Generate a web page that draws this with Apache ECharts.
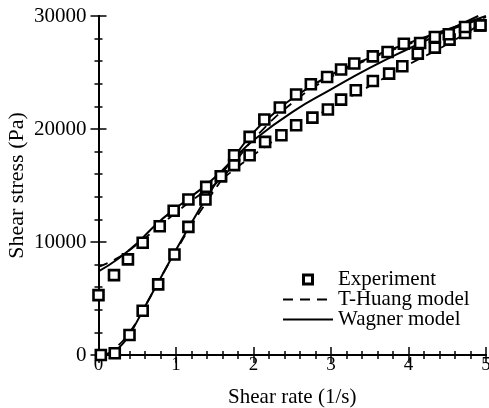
<!DOCTYPE html>
<html>
<head>
<meta charset="utf-8">
<title>Shear stress vs shear rate</title>
<script src="https://cdn.jsdelivr.net/npm/echarts@6/dist/echarts.min.js"></script>
<style>
  html, body { margin: 0; padding: 0; background: #fff; }
  #chart { width: 489px; height: 408px; }
</style>
</head>
<body>
<div id="chart"></div>
<script type="text/javascript">
    // experiment, branch starting near 5000 Pa
    var expAX = [0, 0.2, 0.38, 0.57, 0.79, 0.97, 1.16, 1.39, 1.58, 1.75, 1.95, 2.15, 2.36, 2.55, 2.76, 2.96, 3.13, 3.32, 3.54, 3.75, 3.92, 4.12, 4.34, 4.53, 4.73, 4.92];
    var expAY = [5300, 7070, 8460, 9930, 11400, 12760, 13760, 14880, 15820, 16800, 17680, 18860, 19450, 20330, 21010, 21720, 22600, 23430, 24250, 24900, 25550, 26670, 27200, 27910, 28490, 29170];
    // experiment, branch starting at 0
    var expBX = [0.03, 0.21, 0.40, 0.57, 0.77, 0.98, 1.16, 1.38, 1.58, 1.75, 1.95, 2.14, 2.34, 2.55, 2.74, 2.95, 3.13, 3.30, 3.54, 3.73, 3.94, 4.15, 4.34, 4.52, 4.73, 4.93];
    var expBY = [0, 150, 1770, 3920, 6250, 8900, 11340, 13760, 15820, 17680, 19300, 20840, 21900, 23050, 23960, 24600, 25260, 25790, 26430, 26810, 27550, 27610, 28140, 28380, 29020, 29170];

    // T-Huang model (dashed)
    var huangDownX = [0, 0.25, 0.5, 0.75, 1, 1.25, 1.5, 1.75, 2, 2.5, 3, 3.5, 4, 4.5, 5];
    var huangDownY = [7800, 8600, 9800, 11200, 12600, 13900, 15100, 16400, 17700, 20000, 21900, 23800, 25700, 27500, 29600];
    var huangUpX = [0.08, 0.2, 0.4, 0.6, 0.8, 1.0, 1.2, 1.4, 1.6, 1.8, 2.0, 2.5, 3, 3.5, 4, 4.5, 5];
    var huangUpY = [0, 500, 2000, 4300, 6800, 9200, 11500, 13600, 15600, 17400, 19100, 22300, 24600, 26200, 27500, 28700, 29900];

    // Wagner model (solid)
    var wagDownX = [0, 0.25, 0.5, 0.75, 1, 1.25, 1.5, 1.75, 2, 2.5, 3, 3.5, 4, 4.5, 4.9];
    var wagDownY = [7400, 8500, 9900, 11600, 13000, 14300, 15700, 17400, 19000, 21500, 23500, 25400, 27100, 28700, 30000];
    var wagUpX = [0, 0.1, 0.2, 0.3, 0.4, 0.6, 0.8, 1.0, 1.2, 1.4, 1.6, 1.8, 2.0, 2.25, 2.5, 3, 3.5, 4, 4.5, 5];
    var wagUpY = [0, 0, 300, 900, 1800, 4300, 6800, 9300, 11700, 14000, 16100, 18000, 19700, 21300, 22700, 24800, 26300, 27600, 28800, 30000];

    function pairs(xs, ys) {
        var out = [];
        for (var i = 0; i < xs.length; i++) {
            out.push([xs[i], ys[i]]);
        }
        return out;
    }

    var serif = 'Liberation Serif';
    var chart = echarts.init(document.getElementById('chart'));

    var tickStyle = { color: '#000', width: 1.5 };
    var expStyle = { color: '#fff', borderColor: '#000', borderWidth: 2.6, opacity: 1 };
    var square = 'path://M0,0L10,0L10,10L0,10Z';

    var option = {
        backgroundColor: '#fff',
        animation: false,
        grid: { left: 98.5, right: 3, top: 16, bottom: 53, outerBoundsMode: 'none', containLabel: false },
        legend: {
            data: [
                { name: 'Experiment', icon: square, itemStyle: { color: '#fff', borderColor: '#000', borderWidth: 3 } },
                { name: 'T-Huang model', itemStyle: { opacity: 0 } },
                { name: 'Wagner model', itemStyle: { opacity: 0 } }
            ],
            orient: 'vertical',
            left: 282,
            top: 269,
            itemWidth: 50,
            itemHeight: 9,
            itemGap: -1,
            padding: 0,
            textStyle: { fontFamily: serif, fontSize: 21, color: '#000', lineHeight: 20 }
        },
        xAxis: [{
            type: 'value',
            min: 0, max: 5, interval: 1,
            name: 'Shear rate (1/s)',
            nameLocation: 'middle',
            nameGap: 32,
            nameMoveOverlap: false,
            nameTextStyle: { fontFamily: serif, fontSize: 21, color: '#000' },
            axisLine: { lineStyle: { color: '#000', width: 2 } },
            axisTick: { inside: true, length: 8, lineStyle: tickStyle },
            minorTick: { show: true, splitNumber: 5, length: 4, lineStyle: tickStyle },
            axisLabel: { fontFamily: serif, fontSize: 19, color: '#000', margin: 1 },
            splitLine: { show: false }
        }, {
            type: 'value',
            position: 'top',
            min: 0, max: 5, interval: 1,
            axisLine: { lineStyle: { color: '#000', width: 2 } },
            axisTick: { inside: true, length: 8, lineStyle: tickStyle },
            minorTick: { show: true, splitNumber: 5, length: 4, lineStyle: tickStyle },
            axisLabel: { show: false },
            splitLine: { show: false }
        }],
        yAxis: [{
            type: 'value',
            min: 0, max: 30000, interval: 10000,
            name: 'Shear stress (Pa)',
            nameLocation: 'middle',
            nameGap: 70,
            nameMoveOverlap: false,
            nameTextStyle: { fontFamily: serif, fontSize: 22, color: '#000' },
            axisLine: { lineStyle: { color: '#000', width: 2 } },
            axisTick: { inside: true, length: 8, lineStyle: tickStyle },
            minorTick: { show: true, splitNumber: 5, length: 4, lineStyle: tickStyle },
            axisLabel: {
                fontFamily: serif, fontSize: 21, color: '#000', margin: 12,
                formatter: function (v) { return String(v); }
            },
            splitLine: { show: false }
        }, {
            type: 'value',
            position: 'right',
            min: 0, max: 30000, interval: 10000,
            axisLine: { lineStyle: { color: '#000', width: 2 } },
            axisTick: { inside: true, length: 8, lineStyle: tickStyle },
            minorTick: { show: true, splitNumber: 5, length: 4, lineStyle: tickStyle },
            axisLabel: { show: false },
            splitLine: { show: false }
        }],
        series: [{
            name: 'T-Huang model', type: 'line', smooth: true, symbol: 'none', z: 2,
            itemStyle: { color: '#000' },
            lineStyle: { color: '#000', width: 1.8, type: [10, 7] },
            data: pairs(huangDownX, huangDownY)
        }, {
            name: 'T-Huang model', type: 'line', smooth: true, symbol: 'none', z: 2,
            itemStyle: { color: '#000' },
            lineStyle: { color: '#000', width: 1.8, type: [10, 7] },
            data: pairs(huangUpX, huangUpY)
        }, {
            name: 'Wagner model', type: 'line', smooth: true, symbol: 'none', z: 2,
            itemStyle: { color: '#000' },
            lineStyle: { color: '#000', width: 2 },
            data: pairs(wagDownX, wagDownY)
        }, {
            name: 'Wagner model', type: 'line', smooth: true, symbol: 'none', z: 2,
            itemStyle: { color: '#000' },
            lineStyle: { color: '#000', width: 2 },
            data: pairs(wagUpX, wagUpY)
        }, {
            name: 'Experiment', type: 'scatter', symbol: 'rect', symbolSize: 10, z: 5,
            clip: false,
            itemStyle: expStyle,
            data: pairs(expAX, expAY)
        }, {
            name: 'Experiment', type: 'scatter', symbol: 'rect', symbolSize: 10, z: 5,
            clip: false,
            itemStyle: expStyle,
            data: pairs(expBX, expBY)
        }]
    };
    chart.setOption(option);
</script>
</body>
</html>
